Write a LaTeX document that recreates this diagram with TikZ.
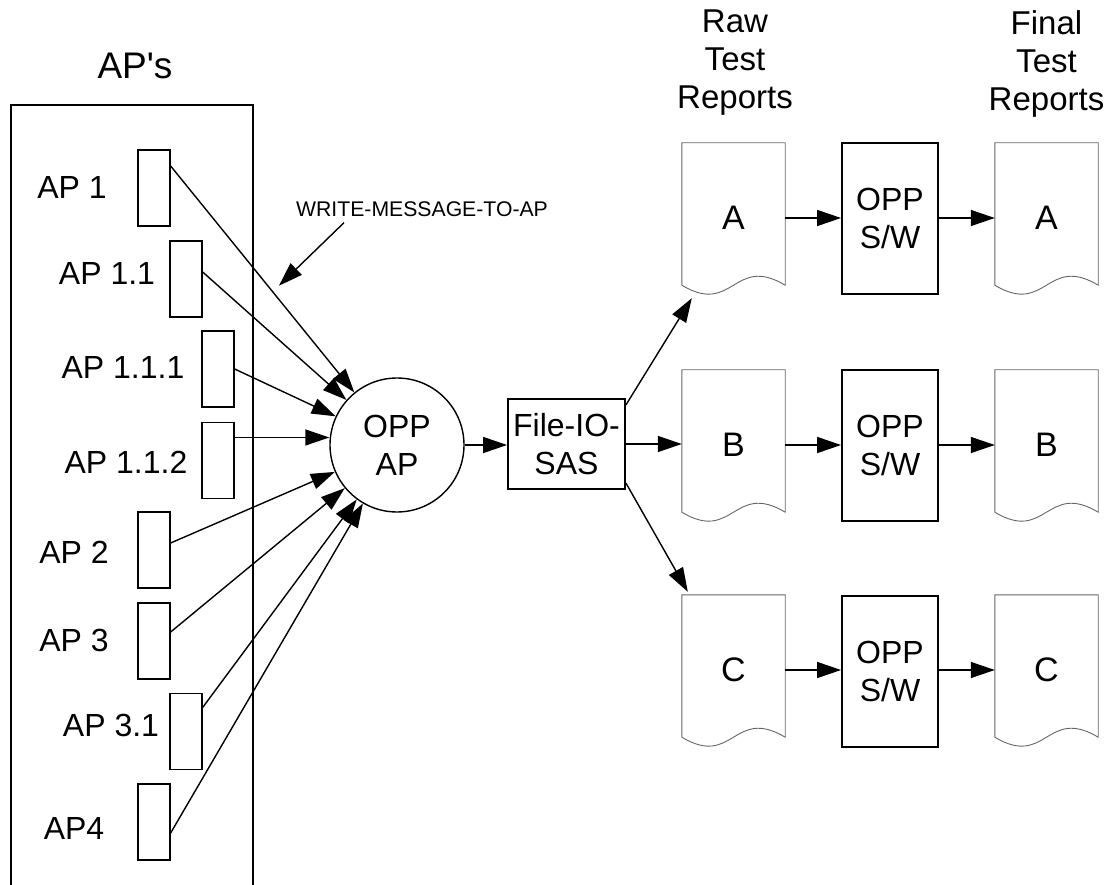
\documentclass[tikz,border=0pt]{standalone}
\usepackage{fontspec}
\setmainfont{Liberation Sans}
% same face without TeX quote ligatures, for a straight apostrophe
\newfontfamily\plainsans{Liberation Sans}
\usetikzlibrary{arrows.meta,calc}

% outline of a flowchart "document": straight top and sides, wavy bottom
\newcommand\docoutline[1]{%
  \draw[docline] ($(#1.south west)+(0,-8)$) -- (#1.north west) -- (#1.north east)
    -- ($(#1.south east)+(0,-8)$)
    .. controls ($(#1.south)+(0,-39)$) and ($(#1.south)+(0,23)$) .. ($(#1.south west)+(0,-8)$);}

\begin{document}
\begin{tikzpicture}[x=1pt,y=-1pt,
  txt/.style={font=\fontsize{32}{38}\selectfont, inner sep=0pt, align=center},
  frame/.style={line width=1.8pt},
  aprect/.style={draw, line width=1.3pt, minimum width=32pt, minimum height=76pt, inner sep=0pt},
  procbox/.style={draw, line width=1.8pt, inner sep=0pt, txt},
  docshape/.style={minimum width=103pt, minimum height=150pt, inner sep=0pt,
                   font=\fontsize{34}{38}\selectfont},
  docline/.style={draw=black!60, line width=0.9pt},
  arr/.style={line width=1.4pt, -{Triangle[length=24pt,width=16pt]}}]

\useasboundingbox (0,0) rectangle (1104,885);

% group of application programs
\node[txt, font={\plainsans\fontsize{37}{40}\selectfont}] (aptitle) at (135,66) {AP's};
\draw[frame] (11,890) -- (11,105) -- (253,105) -- (253,890);

\node[aprect] (r1) at (154,188)   {};
\node[aprect] (r2) at (186,279)   {};
\node[aprect] (r3) at (218,369)   {};
\node[aprect] (r4) at (218,460.5) {};
\node[aprect] (r5) at (154,550)   {};
\node[aprect] (r6) at (154,641)   {};
\node[aprect] (r7) at (186,731.5) {};
\node[aprect] (r8) at (154,822)   {};

\node[txt] (l1) at (72,187)  {AP 1};
\node[txt] (l2) at (107,273) {AP 1.1};
\node[txt] (l3) at (123,367) {AP 1.1.1};
\node[txt] (l4) at (126,462) {AP 1.1.2};
\node[txt] (l5) at (74,552)  {AP 2};
\node[txt] (l6) at (74,640)  {AP 3};
\node[txt] (l7) at (111,725) {AP 3.1};
\node[txt] (l8) at (74,828)  {AP4};

% central program and file interface
\node[circle, draw, line width=1.4pt, minimum size=134pt, txt] (opp) at (397,445) {OPP\\AP};
\node[procbox, minimum width=117pt, minimum height=90pt] (fio) at (566.5,444) {File-IO-\\SAS};

% messages into the central program
\draw[arr] ($(r1.east)+(0,-22)$) -- (opp);
\draw[arr] ($(r2.east)+(0,-7)$)  -- (opp);
\draw[arr] (r3.east) -- (opp);
\coordinate (s4) at ($(r4.east)+(0,-23)$);
\draw[arr] (s4) -- (s4 -| opp.west);
\draw[arr] ($(r5.east)+(0,-7)$)  -- (opp);
\draw[arr] ($(r6.east)+(0,-9)$)  -- (opp);
\draw[arr] ($(r7.east)+(0,-24)$) -- (opp);
\draw[arr] ($(r8.east)+(0,11)$)  -- (opp);

\node[inner sep=0pt, font=\fontsize{21.2}{24}\selectfont] (wlabel) at (422,209) {WRITE-MESSAGE-TO-AP};
\coordinate (wtail) at ($(wlabel.south west)+(48,6)$);
\coordinate (whead) at ($(wtail)+(-65,63)$);
\draw[arr] (wtail) -- (whead);

\draw[arr] (opp.east) -- (opp.east -| fio.west);

% raw reports, post-processing and final reports
\node[txt, font=\fontsize{33}{38}\selectfont, anchor=north] (hraw)   at (735,10)    {Raw\\Test\\Reports};
\node[txt, font=\fontsize{33}{38}\selectfont, anchor=north] (hfinal) at (1046.5,10) {Final\\Test\\Reports};

\node[docshape] (ra) at (733.5,218) {A};
\node[docshape] (rb) at (733.5,445) {B};
\node[docshape] (rc) at (733.5,670) {C};
\node[docshape] (fa) at (1046.5,218) {A};
\node[docshape] (fb) at (1046.5,445) {B};
\node[docshape] (fc) at (1046.5,670) {C};
\docoutline{ra}\docoutline{rb}\docoutline{rc}
\docoutline{fa}\docoutline{fb}\docoutline{fc}

\node[procbox, minimum width=96pt, minimum height=151pt] (sa) at (890,218.5) {OPP\\S/W};
\node[procbox, minimum width=96pt, minimum height=151pt] (sb) at (890,445.5) {OPP\\S/W};
\node[procbox, minimum width=96pt, minimum height=151pt] (sc) at (890,671.5) {OPP\\S/W};

\draw[arr] ($(fio.east)+(0,-39)$) -- ($(ra.south west)+(10,5)$);
\draw[arr] (fio.east) -- (fio.east -| rb.west);
\draw[arr] ($(fio.east)+(0,39)$)  -- ($(rc.north west)+(6,-3)$);

\draw[arr] (ra.east) -- (ra.east -| sa.west);
\draw[arr] (rb.east) -- (rb.east -| sb.west);
\draw[arr] (rc.east) -- (rc.east -| sc.west);
\draw[arr] (sa.east |- ra.east) -- (fa.west);
\draw[arr] (sb.east |- rb.east) -- (fb.west);
\draw[arr] (sc.east |- rc.east) -- (fc.west);

\end{tikzpicture}
\end{document}
